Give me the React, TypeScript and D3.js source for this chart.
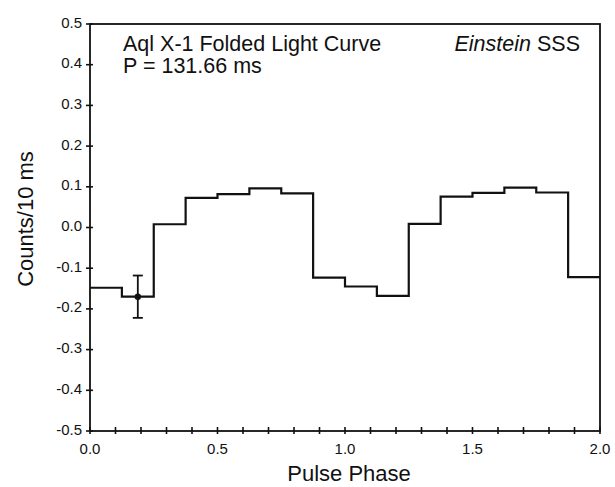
import React, { useRef, useEffect } from 'react';
import * as d3 from 'd3';

const WIDTH = 615;
const HEIGHT = 487;
const LEFT = 90;
const RIGHT = 600;
const TOP = 24;
const BOTTOM = 431;

// folded counts, 16 bins of 0.125 in phase (two cycles)
const binStarts = [0, 0.125, 0.25, 0.375, 0.5, 0.625, 0.75, 0.875, 1.0, 1.125, 1.25, 1.375, 1.5, 1.625, 1.75, 1.875];
const counts = [-0.148, -0.170, 0.008, 0.073, 0.082, 0.096, 0.084, -0.123, -0.145, -0.168, 0.009, 0.076, 0.085, 0.098, 0.086, -0.122];
const errPoint = { phase: 0.1875, value: -0.17, err: 0.052 };

const xTickLabels = [0, 0.5, 1.0, 1.5, 2.0];
const xMinorTicks = d3.range(0, 21).map(i => i / 10);
const yTicks = [0.5, 0.4, 0.3, 0.2, 0.1, 0, -0.1, -0.2, -0.3, -0.4, -0.5];

function App() {
  const ref = useRef<SVGSVGElement>(null);

  useEffect(() => {
    const svg = d3.select(ref.current);
    svg.selectAll('*').remove();

    const x = d3.scaleLinear().domain([0, 2]).range([LEFT, RIGHT]);
    const y = d3.scaleLinear().domain([-0.5, 0.5]).range([BOTTOM, TOP]);
    const font = 'Liberation Sans, Arial, Helvetica, sans-serif';
    const ink = '#111';

    // frame
    svg.append('rect')
      .attr('x', LEFT).attr('y', TOP)
      .attr('width', RIGHT - LEFT).attr('height', BOTTOM - TOP)
      .attr('fill', 'none').attr('stroke', ink).attr('stroke-width', 1.8);

    // x ticks
    svg.append('g').selectAll('line')
      .data(xMinorTicks)
      .join('line')
      .attr('x1', d => x(d)).attr('x2', d => x(d))
      .attr('y1', BOTTOM - 4).attr('y2', BOTTOM + 3)
      .attr('stroke', ink).attr('stroke-width', 1.6);

    svg.append('g').selectAll('text')
      .data(xTickLabels)
      .join('text')
      .attr('x', d => x(d)).attr('y', BOTTOM + 23)
      .attr('text-anchor', 'middle')
      .attr('font-family', font).attr('font-size', 15)
      .attr('fill', ink)
      .text(d => d.toFixed(1));

    // y ticks
    svg.append('g').selectAll('line')
      .data(yTicks)
      .join('line')
      .attr('x1', LEFT - 4).attr('x2', LEFT + 3)
      .attr('y1', d => y(d)).attr('y2', d => y(d))
      .attr('stroke', ink).attr('stroke-width', 1.6);

    svg.append('g').selectAll('text')
      .data(yTicks)
      .join('text')
      .attr('x', LEFT - 8).attr('y', d => y(d) + 3.5)
      .attr('text-anchor', 'end')
      .attr('font-family', font).attr('font-size', 15)
      .attr('fill', ink)
      .text(d => d.toFixed(1));

    // axis titles
    svg.append('text')
      .attr('x', 349).attr('y', 481)
      .attr('text-anchor', 'middle')
      .attr('font-family', font).attr('font-size', 22)
      .attr('fill', ink)
      .text('Pulse Phase');

    svg.append('text')
      .attr('transform', 'translate(33, 219) rotate(-90)')
      .attr('text-anchor', 'middle')
      .attr('font-family', font).attr('font-size', 22)
      .attr('fill', ink)
      .text('Counts/10 ms');

    // step curve
    const pts: [number, number][] = binStarts.map((b, i) => [b, counts[i]]);
    pts.push([2, counts[counts.length - 1]]);
    const line = d3.line<[number, number]>()
      .x(d => x(d[0])).y(d => y(d[1]))
      .curve(d3.curveStepAfter);
    svg.append('path')
      .attr('d', line(pts))
      .attr('fill', 'none').attr('stroke', ink).attr('stroke-width', 2.2);

    // error bar
    const ex = x(errPoint.phase);
    const eg = svg.append('g').attr('stroke', ink).attr('stroke-width', 1.8);
    eg.append('line')
      .attr('x1', ex).attr('x2', ex)
      .attr('y1', y(errPoint.value + errPoint.err)).attr('y2', y(errPoint.value - errPoint.err));
    [errPoint.value + errPoint.err, errPoint.value - errPoint.err].forEach(v => {
      eg.append('line')
        .attr('x1', ex - 5).attr('x2', ex + 5)
        .attr('y1', y(v)).attr('y2', y(v));
    });
    svg.append('circle')
      .attr('cx', ex).attr('cy', y(errPoint.value)).attr('r', 3.2)
      .attr('fill', ink);

    // annotations
    const t1 = svg.append('text')
      .attr('x', 123).attr('y', 50.5)
      .attr('font-family', font).attr('font-size', 21.5)
      .attr('fill', ink);
    t1.append('tspan').text('Aql X-1 Folded Light Curve');
    t1.append('tspan').attr('x', 123).attr('dy', 22.5).text('P = 131.66 ms');

    const t2 = svg.append('text')
      .attr('x', 580).attr('y', 50.5)
      .attr('text-anchor', 'end')
      .attr('font-family', font).attr('font-size', 21.5)
      .attr('fill', ink);
    t2.append('tspan').attr('font-style', 'italic').text('Einstein');
    t2.append('tspan').text(' SSS');
  }, []);

  return (
    <svg ref={ref} width={WIDTH} height={HEIGHT}
      style={{ position: 'absolute', left: 0, top: 0, background: '#fff' }} />
  );
}

export default App;
